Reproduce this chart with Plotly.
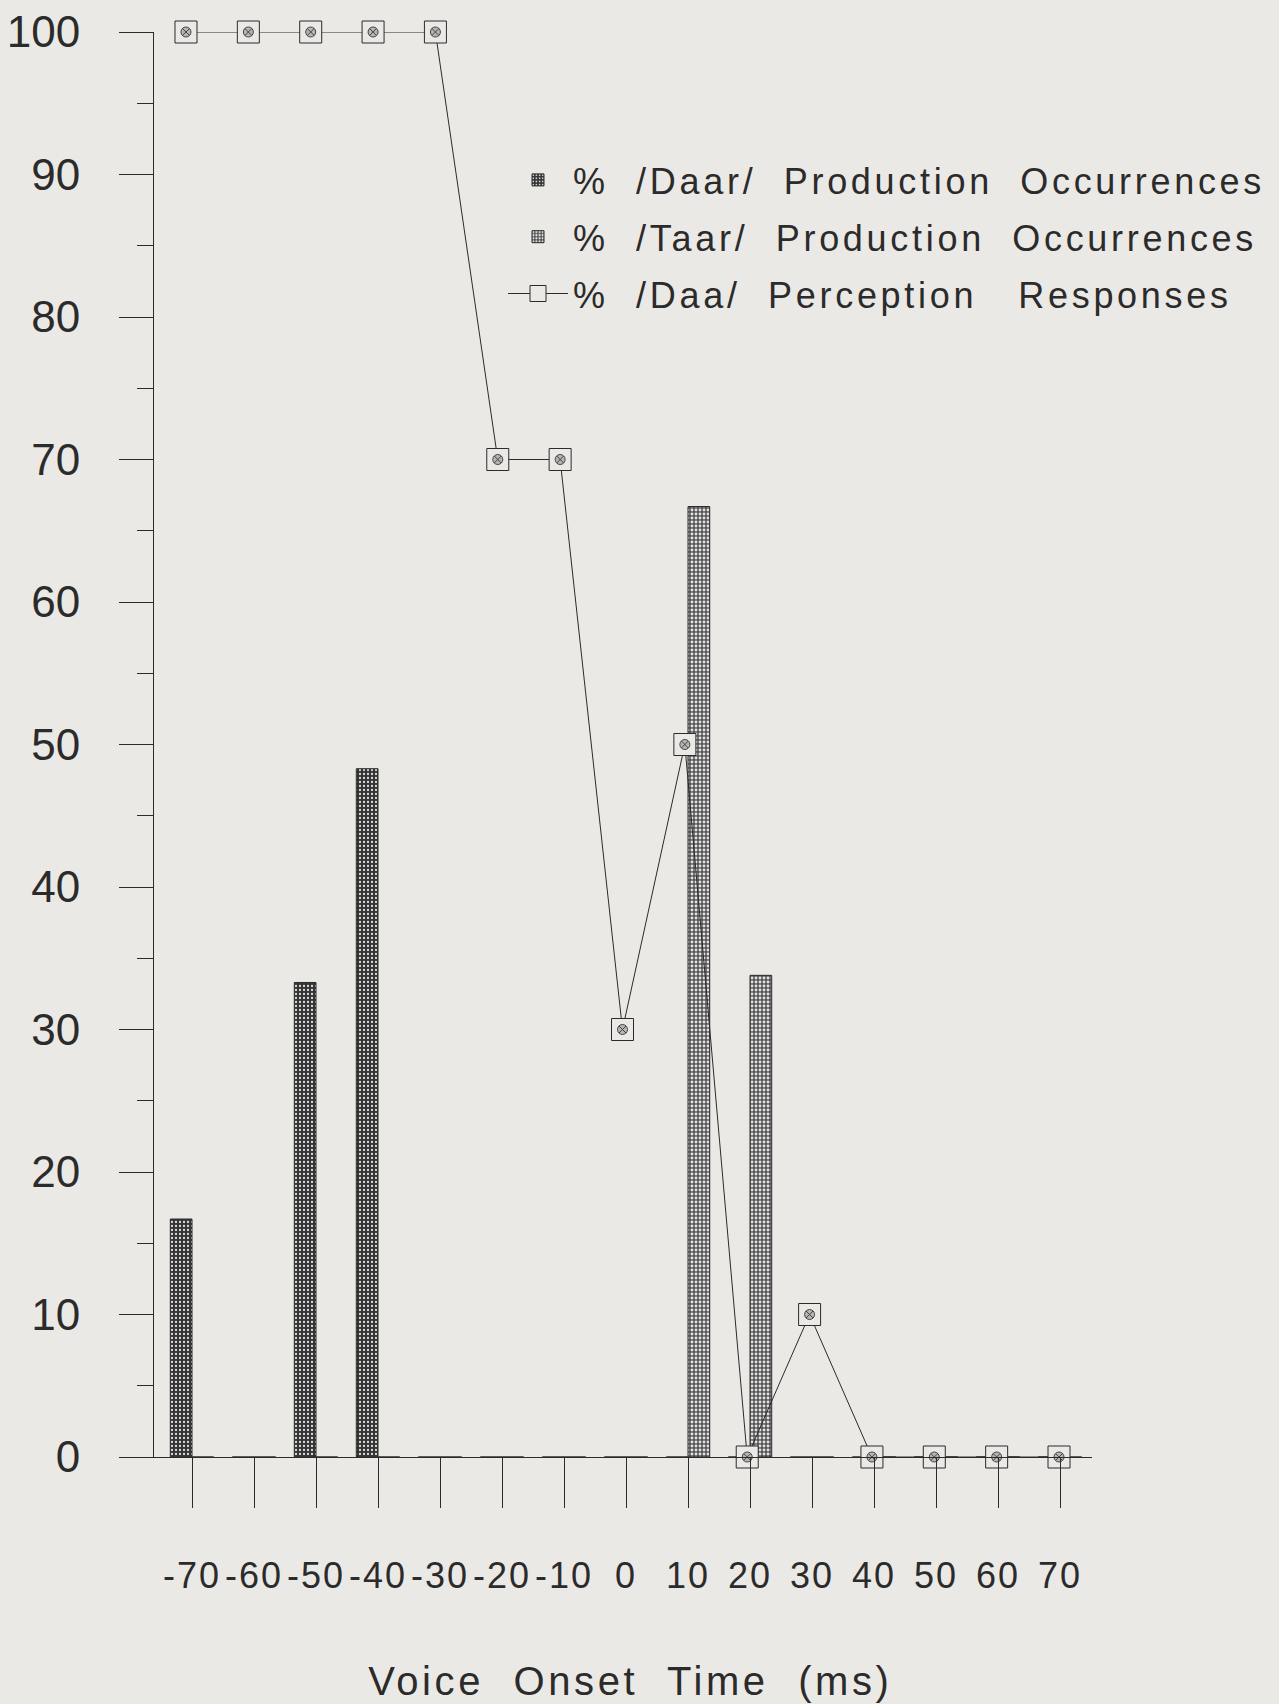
import plotly.graph_objects as go

# Voice onset time steps (ms)
vot = [-70, -60, -50, -40, -30, -20, -10, 0, 10, 20, 30, 40, 50, 60, 70]
vot_labels = ["-70", "-60", "-50", "-40", "-30", "-20", "-10", "0",
              "10", "20", "30", "40", "50", "60", "70"]

# Production occurrences (%)
daar_production = [16.7, 0, 33.3, 48.3, 0, 0, 0, 0, 0, 0, 0, 0, 0, 0, 0]
taar_production = [0, 0, 0, 0, 0, 0, 0, 0, 66.7, 33.8, 0, 0, 0, 0, 0]

# Perception responses (%)
daa_perception = [100, 100, 100, 100, 100, 70, 70, 30, 50, 0, 10, 0, 0, 0, 0]

y_ticks = [0, 10, 20, 30, 40, 50, 60, 70, 80, 90, 100]

BG = "#ebe9e5"
INK = "#2b2b2b"
FONT = "Liberation Sans, Arial, Helvetica, sans-serif"


def tracked(text, px):
    return f'<span style="letter-spacing:{px}px">{text}</span>'


fig = go.Figure()

fig.add_trace(go.Bar(
    x=vot, y=daar_production,
    name=tracked("%  /Daar/  Production  Occurrences", 3.7),
    legendgroup="daar",
    marker=dict(
        color="#333333",
        line=dict(color=INK, width=1),
        pattern=dict(shape=".", bgcolor="#333333", fgcolor="#dddddd",
                     size=4, solidity=0.25, fillmode="replace"),
    ),
))

fig.add_trace(go.Bar(
    x=vot, y=taar_production,
    name=tracked("%  /Taar/  Production  Occurrences", 3.7),
    legendgroup="taar",
    marker=dict(
        color="#555555",
        line=dict(color=INK, width=1),
        pattern=dict(shape=".", bgcolor="#555555", fgcolor="#e2e2e2",
                     size=4, solidity=0.4, fillmode="replace"),
    ),
))

# perception curve sits on its own (hidden) x scale, slightly wider than the bars'
fig.add_trace(go.Scatter(
    x=vot, y=daa_perception,
    xaxis="x2",
    mode="lines+markers",
    name=tracked("%  /Daa/  Perception   Responses", 3.7),
    legendgroup="daa",
    line=dict(color=INK, width=1),
    marker=dict(symbol="square", size=22, color=BG,
                line=dict(color=INK, width=1)),
    cliponaxis=False,
))

# small dotted disc inside each square marker
fig.add_trace(go.Scatter(
    x=vot, y=daa_perception,
    xaxis="x2",
    mode="markers",
    showlegend=False,
    legendgroup="daa",
    hoverinfo="skip",
    marker=dict(symbol="circle-x", size=10, color="#b5b5b5",
                line=dict(color="#444444", width=1)),
    cliponaxis=False,
))

fig.update_layout(
    width=1279, height=1704,
    paper_bgcolor=BG, plot_bgcolor=BG,
    margin=dict(l=154, r=187, t=32, b=247, autoexpand=False),
    barmode="group", bargap=0.3, bargroupgap=0,
    font=dict(family=FONT, color=INK),
    showlegend=True,
    legend=dict(
        x=(503 - 154) / 938, y=1 - (150 - 32) / 1425,
        xanchor="left", yanchor="top",
        bgcolor="rgba(0,0,0,0)",
        font=dict(family=FONT, size=36, color=INK),
        itemwidth=60, tracegroupgap=7,
        traceorder="grouped",
    ),
    xaxis=dict(
        range=[-76.13, 75.16],
        tickmode="array", tickvals=vot,
        ticktext=[tracked(t, 2) for t in vot_labels],
        tickangle=0,
        ticks="outside", ticklen=50, tickwidth=1, tickcolor=INK,
        ticklabelstandoff=37,
        tickfont=dict(family=FONT, size=36, color=INK),
        showline=True, linecolor=INK, linewidth=1,
        showgrid=False, zeroline=False,
        title=dict(text=tracked("\u00a0Voice  Onset  Time  (ms)", 3.6),
                   font=dict(family=FONT, size=40, color=INK),
                   standoff=71),
    ),
    xaxis2=dict(
        overlaying="x", anchor="y", side="bottom",
        range=[-75.13, 75.29],
        visible=False, showgrid=False, zeroline=False,
    ),
    yaxis=dict(
        range=[0, 100],
        tickmode="array", tickvals=y_ticks,
        ticks="outside", ticklen=34, tickwidth=1, tickcolor=INK,
        ticklabelstandoff=30,
        tickfont=dict(family=FONT, size=44, color=INK),
        minor=dict(dtick=5, ticks="outside", ticklen=16, tickwidth=1,
                   tickcolor=INK, showgrid=False),
        showline=True, linecolor=INK, linewidth=1,
        showgrid=False, zeroline=False,
    ),
)

fig.write_html("out.html")
